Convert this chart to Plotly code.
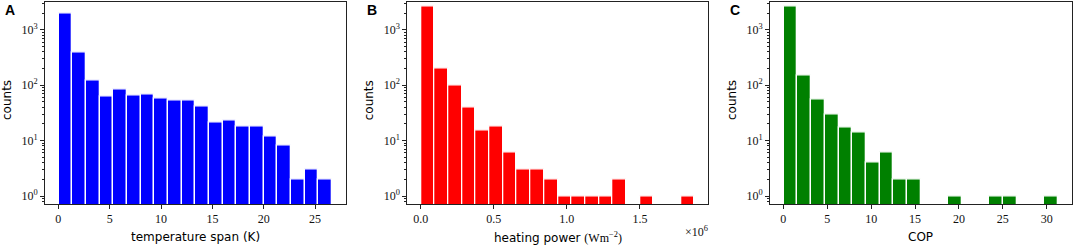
import numpy as np
import plotly.graph_objects as go

# ---------------- data ----------------
temp_span_min, temp_span_max = 0.03, 26.65
temp_span_counts = [1950, 386, 122, 62, 84, 65, 68, 58, 54, 52, 42, 21, 23, 18, 18, 12, 8, 2, 3, 2]

heat_power_min, heat_power_max = 0.002e6, 1.874e6
heat_power_counts = [2650, 201, 97, 40, 15, 18, 6, 3, 3, 2, 1, 1, 1, 1, 2, 0, 1, 0, 0, 1]

cop_min, cop_max = 0.04, 31.29
cop_counts = [2650, 151, 56, 30, 17, 14, 4, 6, 2, 2, 0, 0, 1, 0, 0, 1, 1, 0, 0, 1]

temp_ticks = [0, 5, 10, 15, 20, 25]
temp_ticktext = ["0", "5", "10", "15", "20", "25"]
heat_ticks = [0, 0.5e6, 1.0e6, 1.5e6]
heat_ticktext = ["0.0", "0.5", "1.0", "1.5"]
cop_ticks = [0, 5, 10, 15, 20, 25, 30]
cop_ticktext = ["0", "5", "10", "15", "20", "25", "30"]

y_major = [1, 10, 100, 1000]
y_major_text = ["10<sup>0</sup>", "10<sup>1</sup>", "10<sup>2</sup>", "10<sup>3</sup>"]
y_minor = [0.8, 0.9] + [m * 10 ** e for e in range(0, 4) for m in range(2, 10)]

W, H = 1074, 247
SERIF = "Liberation Serif"
SANS = "DejaVu Sans"

panels = [
    dict(lo=temp_span_min, hi=temp_span_max, counts=temp_span_counts, color="#0000ff",
         ticks=temp_ticks, ticktext=temp_ticktext, dom=(45, 345.7), letter="A",
         xtitle="temperature span (K)"),
    dict(lo=heat_power_min, hi=heat_power_max, counts=heat_power_counts, color="#ff0000",
         ticks=heat_ticks, ticktext=heat_ticktext, dom=(407.3, 708.3), letter="B",
         xtitle='heating power <span style="font-family:Liberation Serif">(Wm<sup>−2</sup>)</span>'),
    dict(lo=cop_min, hi=cop_max, counts=cop_counts, color="#008000",
         ticks=cop_ticks, ticktext=cop_ticktext, dom=(770, 1071.7), letter="C",
         xtitle="COP"),
]

ydom = [1 - 204 / H, 1 - 1.5 / H]
yrange = [-0.144, 3.51]

fig = go.Figure()
annotations = []
for i, p in enumerate(panels):
    n = len(p["counts"])
    edges = np.linspace(p["lo"], p["hi"], n + 1)
    centers = (edges[:-1] + edges[1:]) / 2
    width = edges[1] - edges[0]
    yvals = [c if c > 0 else None for c in p["counts"]]
    xa = "x" if i == 0 else f"x{i+1}"
    ya = "y" if i == 0 else f"y{i+1}"
    fig.add_trace(go.Bar(x=centers, y=yvals, width=width, marker=dict(color=p["color"], line=dict(color="white", width=1.3)),
                         xaxis=xa, yaxis=ya, showlegend=False))
    span = p["hi"] - p["lo"]
    key = "" if i == 0 else str(i + 1)
    fig.layout["xaxis" + key] = dict(
        domain=[p["dom"][0] / W, p["dom"][1] / W], anchor=ya, range=[p["lo"] - 0.05 * span, p["hi"] + 0.05 * span],
        tickmode="array", tickvals=p["ticks"], ticktext=p["ticktext"], ticks="outside", ticklen=4, tickwidth=1,
        tickcolor="#222", showline=True, linecolor="#222", linewidth=1, mirror=True, showgrid=False, zeroline=False,
        tickfont=dict(family=SERIF, size=12, color="#111"), automargin=False,
    )
    fig.layout["yaxis" + key] = dict(
        domain=ydom, anchor=xa, type="log", range=yrange,
        tickmode="array", tickvals=y_major, ticktext=y_major_text, ticks="outside", ticklen=4, tickwidth=1,
        tickcolor="#222", showline=True, linecolor="#222", linewidth=1, mirror=True, showgrid=False, zeroline=False,
        tickfont=dict(family=SERIF, size=12, color="#111"), automargin=False,
        minor=dict(tickmode="array", tickvals=y_minor, ticks="outside", ticklen=2, tickwidth=0.8, tickcolor="#222", showgrid=False),
    )
    x0 = p["dom"][0]
    annotations.append(dict(text=f"<b>{p['letter']}</b>", x=(x0 - 42) / W, y=1 - 0 / H, xref="paper", yref="paper",
                            xanchor="left", yanchor="top", showarrow=False,
                            font=dict(family="Liberation Sans", size=14, color="black")))
    annotations.append(dict(text="counts", x=(x0 - 38) / W, y=1 - 100 / H, xref="paper", yref="paper",
                            xanchor="center", yanchor="middle", textangle=-90, showarrow=False,
                            font=dict(family=SANS, size=12, color="black")))
    annotations.append(dict(text=p["xtitle"], x=(p["dom"][0] + p["dom"][1]) / 2 / W, y=1 - 237 / H,
                            xref="paper", yref="paper", xanchor="center", yanchor="middle", showarrow=False,
                            font=dict(family=SANS, size=12, color="black")))

annotations.append(dict(text="×10<sup>6</sup>", x=710 / W, y=1 - 231 / H, xref="paper", yref="paper",
                        xanchor="right", yanchor="middle", showarrow=False,
                        font=dict(family=SERIF, size=12, color="#111")))

fig.update_layout(width=W, height=H, margin=dict(l=0, r=0, t=0, b=0), paper_bgcolor="white",
                  plot_bgcolor="white", bargap=0, annotations=annotations)
fig.write_html("out.html", config={"displayModeBar": False},
               post_script="document.body.style.margin='0';document.body.style.padding='0';")
